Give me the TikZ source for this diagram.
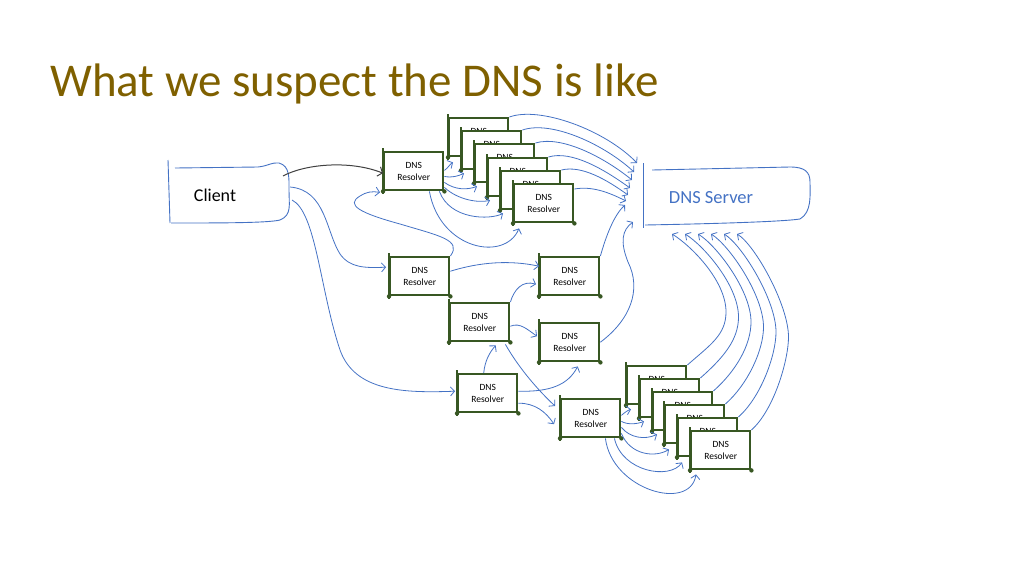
\documentclass[tikz,border=0pt]{standalone}
\usepackage{fontspec}
\setmainfont{Carlito}
\usetikzlibrary{arrows.meta,calc}
\definecolor{resgreen}{RGB}{56,87,35}
\definecolor{lineblue}{RGB}{68,114,196}
\definecolor{titlecol}{RGB}{127,96,0}
\newcommand\resboxtext[4]{%
  \node[resbox] (#1) at (#2,#3) {#4};
  \draw[resgreen,line width=2.4pt] ([yshift=3pt]#1.north west) -- ([yshift=-3pt]#1.south west);
  \fill[resgreen] (#1.south west) circle (2.2pt) (#1.south east) circle (2.2pt);
}
\newcommand\resbox[3]{\resboxtext{#1}{#2}{#3}{DNS\\Resolver}}
\newcommand\backbox[3]{\resboxtext{#1}{#2}{#3}{DNS\\\phantom{Resolver}}}
\begin{document}
\begin{tikzpicture}[x=1pt,y=-1pt,
  resbox/.style={draw=resgreen,line width=2.4pt,fill=white,minimum width=59pt,minimum height=38pt,
    inner sep=0pt,align=center,font=\fontsize{9.5}{12}\selectfont,anchor=north west},
  conn/.style={lineblue,line width=0.8pt,-{Straight Barb[length=4pt,width=9pt]}},
  blackconn/.style={black!75,line width=1pt,-{Straight Barb[length=4pt,width=10pt]}},
  outline/.style={lineblue,line width=0.9pt}]
\useasboundingbox (0,0) rectangle (1024,576);

% title
\node[anchor=base west,text=titlecol,font=\fontsize{47}{47}\selectfont,inner sep=0pt] (title) at (50,96) {What we suspect the DNS is like};

% client
\draw[outline] (168,160) -- (170,223);
\draw[outline] (175,168) -- (258,167) .. controls (268,166) and (272,162) .. (279,163)
  .. controls (290,166) and (289,178) .. (289,190) .. controls (289,205) and (292,215) .. (280,220)
  .. controls (268,223) and (220,223) .. (171,223);
\node[font=\fontsize{18}{18}\selectfont,inner sep=1pt] (client) at (215,195) {Client};

% server
\draw[outline] (643,163) -- (643,228);
\draw[outline] (652,170) -- (790,167) .. controls (805,167) and (810,172) .. (810,182)
  .. controls (810,195) and (812,212) .. (800,219) .. controls (780,222) and (700,224) .. (645,225);
\node[font=\fontsize{18.5}{18.5}\selectfont,text=lineblue,inner sep=1pt] (server) at (711,198) {DNS Server};

% arrival points on the outlines
\coordinate (ca) at (283,176);
\coordinate (cb) at (290,187);
\coordinate (cc) at (292,200);
\coordinate (sa0) at (637,163);
\coordinate (sa1) at (634,172);
\coordinate (sa2) at (632,180);
\coordinate (sa3) at (630,188);
\coordinate (sa4) at (628,195);
\coordinate (sa5) at (626,201);
\coordinate (sa6) at (625,205);
\coordinate (sa7) at (633,222);
\coordinate (sb0) at (672,234);
\coordinate (sb1) at (685,234);
\coordinate (sb2) at (698,234);
\coordinate (sb3) at (711,234);
\coordinate (sb4) at (724,234);
\coordinate (sb5) at (737,234);

% resolvers
\resbox{ra}{383}{151}
\resbox{rb}{389}{256}
\resbox{rc}{539}{256}
\resbox{rd}{449}{302}
\resbox{re}{539}{322}
\resbox{rf}{457}{373}
\resbox{rg}{560}{398}
% top stack
\backbox{t0}{448}{117}
\backbox{t1}{461}{130}
\backbox{t2}{474}{143}
\backbox{t3}{487}{157}
\backbox{t4}{500}{170}
\resbox{t5}{513}{183}
% bottom stack
\backbox{b0}{626}{365}
\backbox{b1}{639}{378}
\backbox{b2}{652}{391}
\backbox{b3}{664}{404}
\backbox{b4}{677}{417}
\resbox{b5}{690}{430}

% client connectors
\draw[blackconn] (ca) .. controls (305,164) and (350,160) .. ($(ra.west)+(0,2)$);
\draw[conn] (cb) .. controls (326,190) and (326,232) .. (340,254) .. controls (350,268) and (365,268) .. ($(rb.west)+(-3,-9)$);
\draw[conn] (cc) .. controls (316,212) and (320,290) .. (340,350) .. controls (355,392) and (405,393) .. ($(rf.west)+(-2,-2)$);

% loop rb -> ra
\draw[conn] (rb.north east) .. controls (462,240) and (440,236) .. (400,224)
  .. controls (360,213) and (345,205) .. (360,196) .. controls (366,192) and (372,191) .. ($(ra.south west)+(-3,1)$);

% ra -> top stack
\draw[conn] ($(ra.south east)+(0,-21)$) .. controls (448,168) and (450,164) .. ($(t0.south west)+(5,5)$);
\draw[conn] ($(ra.south east)+(0,-15)$) .. controls (452,178) and (458,176) .. ($(t1.south west)+(3,3)$);
\draw[conn] ($(ra.south east)+(0,-9)$) .. controls (455,190) and (467,190) .. ($(t2.south west)+(3,3)$);
\draw[conn] ($(ra.south east)+(0,-4)$) .. controls (458,200) and (478,203) .. ($(t3.south west)+(3,3)$);
\draw[conn] ($(ra.south east)+(-5,0)$) .. controls (450,220) and (490,220) .. ($(t4.south west)+(3,3)$);
\draw[conn] ($(ra.south east)+(-15,0)$) .. controls (440,250) and (505,262) .. ($(t5.south west)+(6,5)$);

% top stack -> server
\draw[conn] (t0.north east) .. controls (540,106) and (605,130) .. (sa0);
\draw[conn] (t1.north east) .. controls (552,120) and (605,145) .. (sa1);
\draw[conn] (t2.north east) .. controls (562,135) and (605,158) .. (sa2);
\draw[conn] (t3.north east) .. controls (572,150) and (605,170) .. (sa3);
\draw[conn] (t4.north east) .. controls (582,165) and (607,180) .. (sa4);
\draw[conn] ($(t5.north east)+(0,6)$) .. controls (592,186) and (608,192) .. (sa5);

% middle
\draw[conn] ($(rb.east)+(0,-5)$) .. controls (480,262) and (510,260) .. ($(rc.west)+(0,-10)$);
\draw[conn] (rd.north east) .. controls (514,290) and (522,280) .. ($(rc.west)+(-3,8)$);
\draw[conn] ($(rd.east)+(0,4)$) .. controls (520,322) and (528,330) .. ($(re.west)+(-2,-6)$);
\draw[conn] ($(rf.north)+(-4,0)$) .. controls (485,360) and (490,352) .. ($(rd.south)+(16,3)$);
\draw[conn] ($(rf.east)+(0,-2)$) .. controls (550,392) and (568,385) .. ($(re.south)+(8,4)$);
\draw[conn] ($(rf.east)+(0,10)$) .. controls (535,403) and (546,412) .. ($(rg.west)+(-6,6)$);
\draw[conn] ($(rd.south east)+(-5,2)$) .. controls (520,370) and (540,392) .. ($(rg.north west)+(-5,8)$);
\draw[conn] (rc.north east) .. controls (606,236) and (614,215) .. (sa6);
\draw[conn] (re.east) .. controls (630,320) and (642,290) .. (628,262) .. controls (620,242) and (622,230) .. (sa7);

% rg -> bottom stack
\draw[conn] ($(rg.south east)+(0,-23)$) .. controls (624,413) and (628,410) .. ($(b0.south west)+(5,4)$);
\draw[conn] ($(rg.south east)+(0,-17)$) .. controls (628,425) and (637,424) .. ($(b1.south west)+(5,3)$);
\draw[conn] ($(rg.south east)+(0,-11)$) .. controls (630,438) and (645,440) .. ($(b2.south west)+(5,3)$);
\draw[conn] ($(rg.south east)+(0,-5)$) .. controls (630,455) and (655,458) .. ($(b3.south west)+(5,5)$);
\draw[conn] ($(rg.south east)+(-7,0)$) .. controls (622,472) and (670,480) .. ($(b4.south west)+(5,5)$);
\draw[conn] ($(rg.south east)+(-16,0)$) .. controls (612,490) and (690,512) .. ($(b5.south west)+(6,4)$);

% bottom stack -> server
\draw[conn] (b0.north east) .. controls (710,345) and (726,335) .. (726,312) .. controls (726,280) and (690,245) .. (sb0);
\draw[conn] (b1.north east) .. controls (723,358) and (738.5,340) .. (738.5,317) .. controls (738.5,285) and (703,245) .. (sb1);
\draw[conn] (b2.north east) .. controls (736,371) and (751,345) .. (751,322) .. controls (751,290) and (716,245) .. (sb2);
\draw[conn] (b3.north east) .. controls (748,384) and (763.5,350) .. (763.5,327) .. controls (763.5,295) and (729,245) .. (sb3);
\draw[conn] (b4.north east) .. controls (761,397) and (776,355) .. (776,332) .. controls (776,300) and (742,245) .. (sb4);
\draw[conn] (b5.north east) .. controls (774,410) and (788.5,360) .. (788.5,337) .. controls (788.5,305) and (755,245) .. (sb5);
\end{tikzpicture}
\end{document}
